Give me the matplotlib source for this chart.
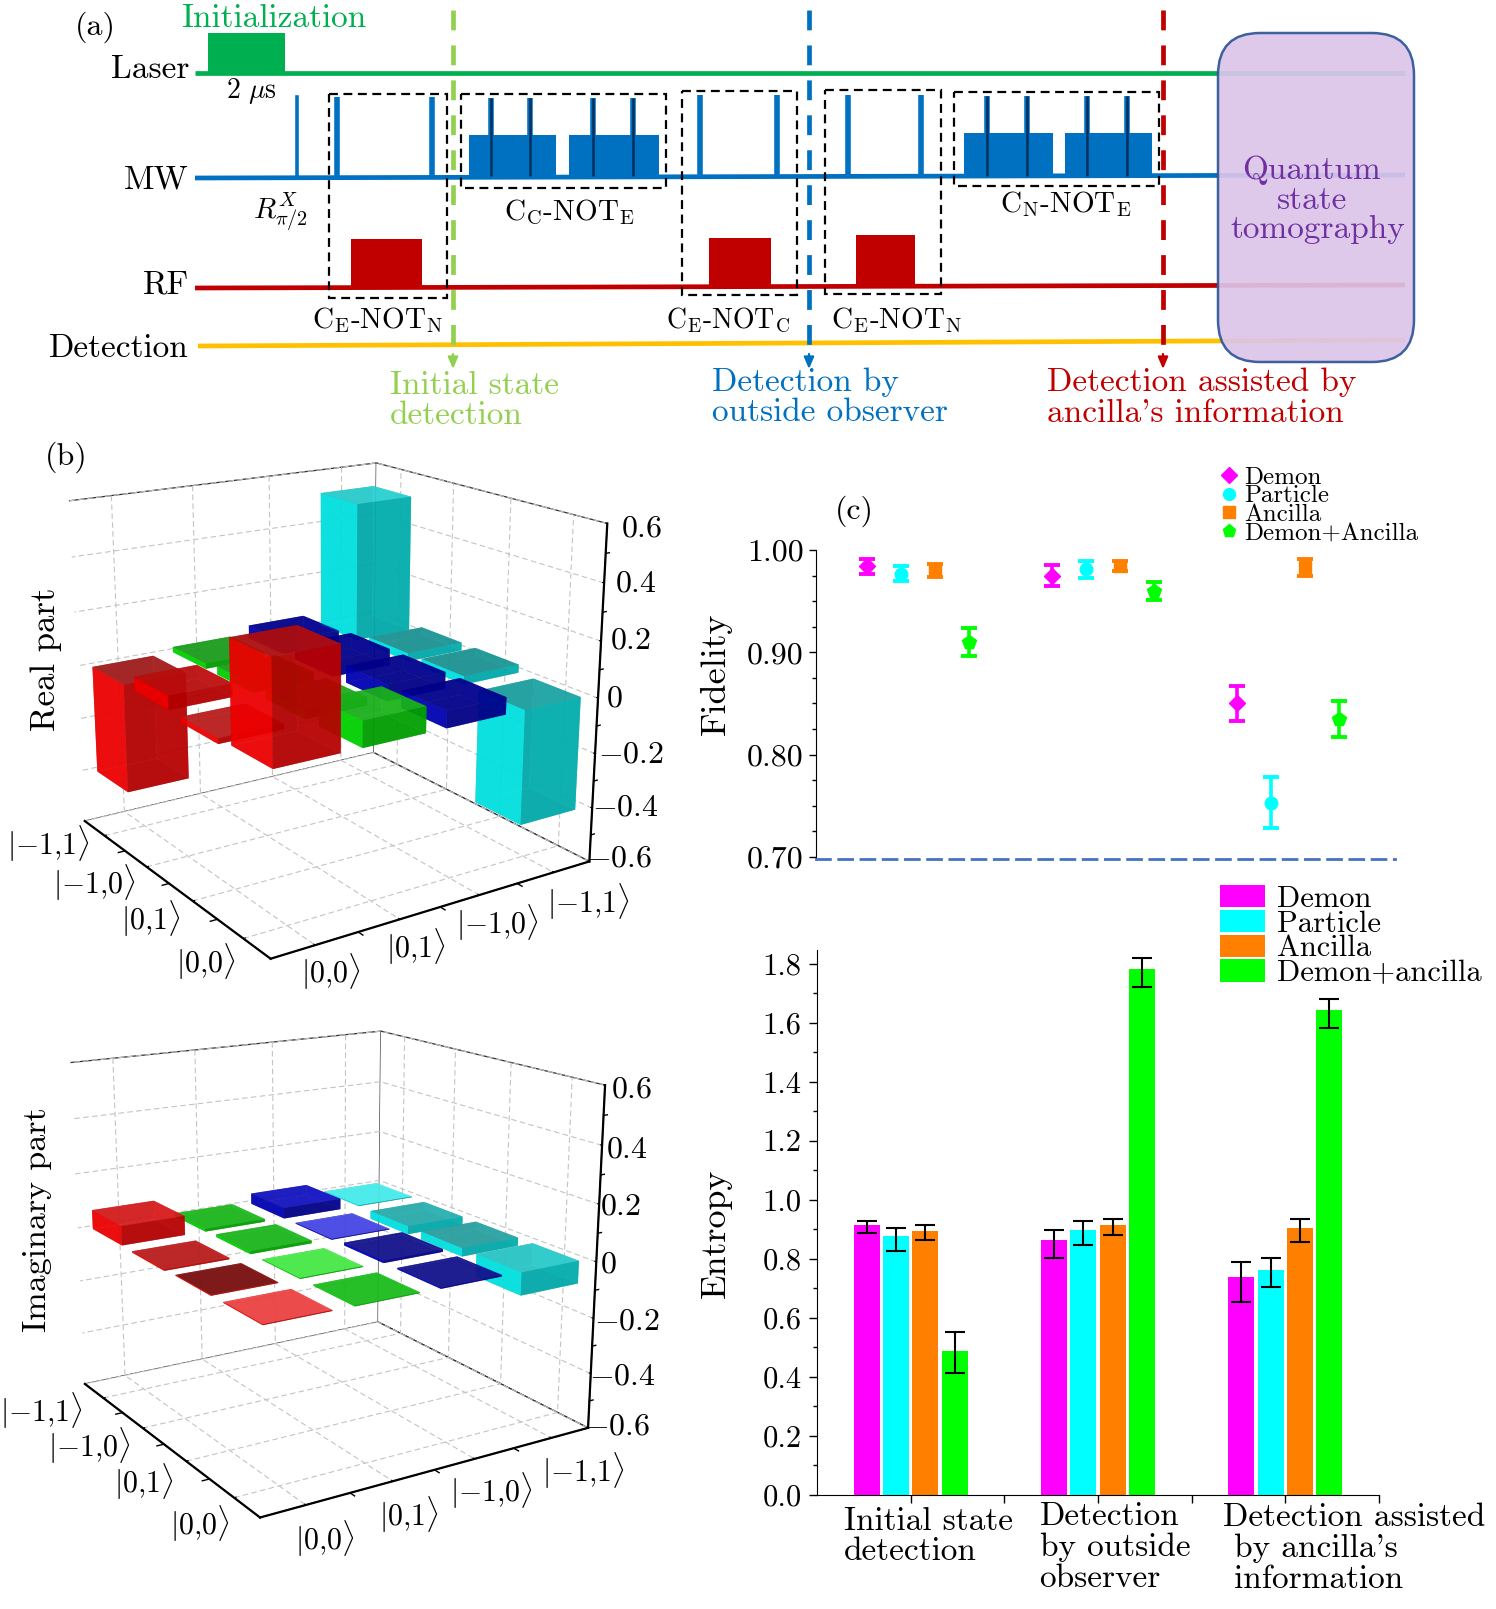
import numpy as np
import matplotlib
matplotlib.use('Agg')
import matplotlib.pyplot as plt
from matplotlib.patches import Rectangle, FancyBboxPatch
from matplotlib.lines import Line2D
from matplotlib.colors import to_rgb
from matplotlib.ticker import FixedLocator, MultipleLocator, NullFormatter
from matplotlib.transforms import ScaledTranslation
from mpl_toolkits.mplot3d import proj3d

plt.rcParams['font.family'] = ['cmr10', 'DejaVu Serif']
plt.rcParams['mathtext.fontset'] = 'cm'
plt.rcParams['axes.unicode_minus'] = False
plt.rcParams['grid.color'] = '#c4c4c4'
plt.rcParams['grid.linestyle'] = (0, (5, 3))
plt.rcParams['grid.linewidth'] = 0.8

W, H = 1496, 1609
DPI = 100

# ---- panel (a): pulse sequence, in picture pixels
seq_lines = {'Laser': (73, 73, '#00b050'), 'MW': (178, 175, '#0070c0'),
             'RF': (288, 285, '#c00000'), 'Detection': (346, 340, '#ffc000')}
laser_pulse = (208, 285, 33)
mw_wide_spikes = [337, 431.8, 700, 777, 848, 921.4]
mw_spike_tops = [97, 97, 95, 95, 95, 95]
mw_thin_spike = (297.5, 97)
mw_blocks = [(469, 556, 135), (569, 659, 135), (964, 1053, 133), (1065, 1152, 133)]
mw_dark_spikes = [491.5, 530.3, 593, 632.8, 987, 1027, 1087.5, 1127.3]
mw_dark_tops = [98, 98, 98, 98, 96, 96, 96, 96]
rf_pulses = [(351, 422, 239), (709.4, 771, 238), (855.7, 915.4, 235)]
gate_boxes = [(329, 447, 94, 298), (461, 666, 94, 188), (682, 797, 91, 295),
              (825, 941, 90, 294), (954, 1159, 92, 186)]
stage_x = [453, 809, 1163]
stage_colors = ['#92d050', '#0070c0', '#c00000']

# ---- panel (b): density-matrix elements, row = colour (4 rows, 4 bars each)
basis_x = [r'$|{-}1{,}1\rangle$', r'$|{-}1{,}0\rangle$', r'$|0{,}1\rangle$', r'$|0{,}0\rangle$']
basis_y = [r'$|0{,}0\rangle$', r'$|0{,}1\rangle$', r'$|{-}1{,}0\rangle$', r'$|{-}1{,}1\rangle$']
z_ticks = [-0.6, -0.4, -0.2, 0, 0.2, 0.4, 0.6]
z_labels = [r'$-0.6$', r'$-0.4$', r'$-0.2$', r'$0$', r'$0.2$', r'$0.4$', r'$0.6$']
row_colors = ['#ff0000', '#00e000', '#0000c0', '#00f0f0']
real_red = [-0.40, 0.05, -0.02, 0.35]
real_green = [0.02, 0.03, 0.03, 0.09]
real_blue = [0.05, 0.06, 0.06, 0.06]
real_cyan = [0.52, 0.03, 0.03, -0.41]
imag_red = [0.07, -0.005, 0.003, 0.003]
imag_green = [0.01, 0.01, 0.003, 0.003]
imag_blue = [0.04, 0.003, 0.01, 0.005]
imag_cyan = [0.003, -0.03, -0.03, -0.08]
real_top_colors = [['#a02020', '#c01010', '#c02020', '#b01010'],
                   ['#20a020', '#20a020', '#20b020', '#20b820'],
                   ['#000090', '#000090', '#000090', '#000090'],
                   ['#30d8d8', '#209090', '#209090', '#20a0a0']]
imag_top_colors = [['#e02020', '#c02020', '#701010', '#ff5050'],
                   ['#20c020', '#20c020', '#55ff55', '#20c820'],
                   ['#1515d0', '#5555ff', '#151590', '#151590'],
                   ['#55ffff', '#30b0b0', '#30a0a0', '#30d0d0']]

# ---- panel (c)
fid_demon = [0.984, 0.975, 0.850]
fid_particle = [0.977, 0.981, 0.753]
fid_ancilla = [0.980, 0.984, 0.983]
fid_both = [0.910, 0.960, 0.835]
fid_demon_err = [0.007, 0.010, 0.0175]
fid_particle_err = [0.007, 0.008, 0.025]
fid_ancilla_err = [0.006, 0.005, 0.008]
fid_both_err = [0.014, 0.009, 0.0175]
ent_categories = ['Initial state\ndetection', 'Detection\nby outside\nobserver',
                  "Detection assisted\n by ancilla's\n information"]
ent_demon = [0.913, 0.863, 0.739]
ent_particle = [0.876, 0.897, 0.763]
ent_ancilla = [0.895, 0.914, 0.905]
ent_both = [0.486, 1.781, 1.643]
ent_demon_lo = [0.886, 0.801, 0.654]
ent_demon_hi = [0.929, 0.897, 0.788]
ent_particle_lo = [0.826, 0.847, 0.705]
ent_particle_hi = [0.903, 0.927, 0.801]
ent_ancilla_lo = [0.863, 0.879, 0.855]
ent_ancilla_hi = [0.916, 0.935, 0.934]
ent_both_lo = [0.414, 1.720, 1.581]
ent_both_hi = [0.553, 1.819, 1.680]
series_colors = ['#ff00ff', '#00ffff', '#ff8000', '#00ff00']

fig = plt.figure(figsize=(W / DPI, H / DPI), dpi=DPI)


def rect(l, t, r, b):
    return [l / W, 1 - b / H, (r - l) / W, (b - t) / H]


ov = fig.add_axes([0, 0, 1, 1], zorder=5)
ov.set_xlim(0, W)
ov.set_ylim(H, 0)
ov.axis('off')
ov.patch.set_alpha(0)

FS = 24
LINE_END = 1405
label_y = {'Laser': 69, 'MW': 180, 'RF': 285, 'Detection': 348}
for name, (y0, y1, col) in seq_lines.items():
    x0 = 198 if name == 'Detection' else 195
    ov.plot([x0, LINE_END], [y0, y1], color=col, lw=3.4, solid_capstyle='butt', zorder=2)
    ov.text(189, label_y[name], name, ha='right', va='center', fontsize=FS, color='black')
ov.add_patch(Rectangle((laser_pulse[0], laser_pulse[2]), laser_pulse[1] - laser_pulse[0],
                       73 - laser_pulse[2], fc='#00b050', ec='none', zorder=2))
ov.plot([mw_thin_spike[0]] * 2, [178, mw_thin_spike[1]], color='#0070c0', lw=2.6, zorder=2)
for x, top in zip(mw_wide_spikes, mw_spike_tops):
    ov.plot([x, x], [177, top], color='#0070c0', lw=4, solid_capstyle='butt', zorder=2)
for x0, x1, top in mw_blocks:
    ov.add_patch(Rectangle((x0, top), x1 - x0, 176 - top, fc='#0070c0', ec='none', zorder=2))
for x, top in zip(mw_dark_spikes, mw_dark_tops):
    ov.plot([x, x], [176, top], color='#0070c0', lw=4, solid_capstyle='butt', zorder=2.5)
    ov.plot([x, x], [176, top], color='#07305f', lw=1.8, solid_capstyle='butt', zorder=3)
for x0, x1, top in rf_pulses:
    ov.add_patch(Rectangle((x0, top), x1 - x0, 287 - top, fc='#c00000', ec='none', zorder=2))
for x0, x1, y0, y1 in gate_boxes:
    ov.add_patch(Rectangle((x0, y0), x1 - x0, y1 - y0, fill=False, ec='black', lw=1.6,
                           ls=(0, (4, 2.5)), zorder=4))
for x, col in zip(stage_x, stage_colors):
    ov.plot([x, x], [10, 356], color=col, lw=3.4, ls=(0, (4.2, 3.2)), zorder=3)
    ov.annotate('', xy=(x, 369), xytext=(x, 354),
                arrowprops=dict(arrowstyle='-|>,head_width=0.3,head_length=0.7', color=col,
                                lw=1.6, shrinkA=0, shrinkB=0))
ov.add_patch(FancyBboxPatch((1218 + 42, 33 + 42), 196 - 84, 329 - 84,
                            boxstyle='round,pad=42,rounding_size=42', fc='#dcc5ea', ec='#2f5597',
                            lw=1.8, alpha=0.92, zorder=5))
for txt, x, y in [('Quantum', 1312, 170), ('state', 1312, 200), ('tomography', 1318, 229)]:
    ov.text(x, y, txt, ha='center', va='center', fontsize=FS, color='#7030a0', zorder=6)

for txt, x, y, col, ha, fs in [
    ('Initialization', 181, 18, '#00b050', 'left', 24),
    ('Initial state', 390, 385, '#92d050', 'left', 24), ('detection', 390, 415, '#92d050', 'left', 24),
    ('Detection by', 712, 382, '#0070c0', 'left', 24), ('outside observer', 712, 412, '#0070c0', 'left', 24),
    ('Detection assisted by', 1047, 382, '#c00000', 'left', 24),
    ("ancilla's information", 1047, 413, '#c00000', 'left', 24),
    (r'$2\ \mu\mathrm{s}$', 226, 91, 'black', 'left', 20),
    (r'$R_{\pi/2}^{X}$', 281, 212, 'black', 'center', 21),
    (r'$\mathrm{C}_{\mathrm{C}}\text{-}\mathrm{NOT}_{\mathrm{E}}$', 569, 212, 'black', 'center', 21),
    (r'$\mathrm{C}_{\mathrm{N}}\text{-}\mathrm{NOT}_{\mathrm{E}}$', 1066, 204, 'black', 'center', 21),
    (r'$\mathrm{C}_{\mathrm{E}}\text{-}\mathrm{NOT}_{\mathrm{N}}$', 378, 320, 'black', 'center', 21),
    (r'$\mathrm{C}_{\mathrm{E}}\text{-}\mathrm{NOT}_{\mathrm{C}}$', 728, 320, 'black', 'center', 20),
    (r'$\mathrm{C}_{\mathrm{E}}\text{-}\mathrm{NOT}_{\mathrm{N}}$', 897, 320, 'black', 'center', 21),
    ('(a)', 95, 27, 'black', 'center', 23), ('(b)', 66, 457, 'black', 'center', 23),
    ('(c)', 854, 511, 'black', 'center', 23),
]:
    ov.text(x, y, txt, ha=ha, va='center', fontsize=fs, color=col, zorder=6)
ov.text(46, 659, 'Real part', rotation=90, ha='center', va='center', fontsize=25)
ov.text(37, 1220, 'Imaginary part', rotation=90, ha='center', va='center', fontsize=24.5)

# ---- 3D panels
CORN = np.array([[.5, .5, -.6], [.5, 4.5, -.6], [4.5, 4.5, -.6], [4.5, .5, -.6],
                 [.5, .5, .6], [.5, 4.5, .6], [4.5, 4.5, .6]])
target_real = np.array([[83, 819], [371, 754], [586, 863], [271, 957], [71, 498], [376, 463], [613, 527]], float)
target_imag = np.array([[86, 1384], [378, 1322], [586, 1428], [260, 1516], [68, 1063], [381, 1031], [608, 1086]], float)
view_real = (17.95, -33.68, 2.02, 0.92)
view_imag = (16.56, -32.07, 2.06, 0.92)
SC = 1496 / 1455
real_xlabel_pos = [(47, 820), (92, 858), (147, 893), (200, 935)]
real_ylabel_pos = [(322, 945), (404, 921), (484, 897), (572, 877)]
real_zlabel_pos = [(570, 835), (576, 786), (582, 734), (589, 680), (593, 623), (598, 568), (604, 514)]
imag_xlabel_pos = [(40, 1372), (87, 1406), (140, 1441), (194, 1482)]
imag_ylabel_pos = [(316, 1496), (398, 1473), (478, 1450), (567, 1430)]
imag_zlabel_pos = [(568, 1388), (573, 1339), (578, 1286), (584, 1230), (584, 1174), (589, 1118), (594, 1060)]


def placement(ax, p, target):
    elev, azim, zoom, cr = p
    ax.view_init(elev, azim)
    ax.set_box_aspect((1, 1, cr), zoom=zoom)
    M = ax.get_proj()
    X, Y, _ = proj3d.proj_transform(CORN[:, 0], CORN[:, 1], CORN[:, 2], M)
    X, Y = np.asarray(X), np.asarray(Y)
    n = len(X)
    A = np.zeros((2 * n, 3))
    A[:n, 0] = X; A[:n, 1] = 1
    A[n:, 0] = Y; A[n:, 2] = 1
    b = np.r_[target[:, 0], H - target[:, 1]]
    sol, *_ = np.linalg.lstsq(A, b, rcond=None)
    return sol


def bars3d(ax, rows, top_colors):
    xs, ys, z0, dz, cols = [], [], [], [], []
    w = 0.75
    for j, row in enumerate(rows):
        for i, v in enumerate(row):
            xs.append(i + 1 - w / 2); ys.append(j + 1 - w / 2)
            z0.append(min(0, v)); dz.append(abs(v))
            base = np.array(to_rgb(row_colors[j]))
            top = np.array(to_rgb(top_colors[j][i]))
            # faces: -z, +z, -y, +y, -x, +x
            for f in (base * 0.6, top, base, base * 0.7, base * 0.6, base * 0.72):
                cols.append((*f, 0.76))
    poly = ax.bar3d(xs, ys, z0, w, w, dz, color=cols, shade=False, edgecolor='none')
    poly.set_clip_on(False)


def setup3d(ax, p, target, xpos, ypos, zpos):
    ax.set_facecolor('none')
    for axis in (ax.xaxis, ax.yaxis, ax.zaxis):
        axis.set_pane_color((1, 1, 1, 1))
        axis.pane.set_edgecolor('#303030')
        axis.pane.set_linewidth(0.9)
        axis.line.set_color('black')
        axis.line.set_linewidth(1.6)
        axis._axinfo['tick']['inward_factor'] = 0.0
        axis._axinfo['tick']['outward_factor'] = 0.07
    ax.set_xlim(.5, 4.5); ax.set_ylim(.5, 4.5); ax.set_zlim(-.6, .6)
    ax.set_xticks([1, 2, 3, 4]); ax.set_xticklabels([])
    ax.set_yticks([1, 2, 3, 4]); ax.set_yticklabels([])
    ax.set_zticks(z_ticks); ax.set_zticklabels([])
    s, tx, ty = placement(ax, p, target)
    vl = ax.viewLim
    ax.set_position([(tx + s * vl.x0) / W, (ty + s * vl.y0) / H, s * vl.width / W, s * vl.height / H])
    for (x, y), lab in zip(xpos, basis_x):
        ov.text(x * SC, y * SC, lab, ha='center', va='center', fontsize=21.5)
    for (x, y), lab in zip(ypos, basis_y):
        ov.text(x * SC, y * SC, lab, ha='center', va='center', fontsize=21.5)
    for (x, y), lab in zip(zpos, z_labels):
        ov.text(x * SC, y * SC, lab, ha='left', va='center', fontsize=23)
    # minor tick marks
    for v in (1.5, 2.5, 3.5):
        ax.plot([v, v], [.5, .42], [-.6, -.6], color='k', lw=1, clip_on=False)
        ax.plot([4.5, 4.58], [v, v], [-.6, -.6], color='k', lw=1, clip_on=False)
    for v in (-.5, -.3, -.1, .1, .3, .5):
        ax.plot([4.5, 4.5], [4.5, 4.55], [v, v], color='k', lw=1, clip_on=False)


ax_re = fig.add_axes([0.02, 0.4, 0.4, 0.35], projection='3d')
ax_im = fig.add_axes([0.02, 0.02, 0.4, 0.35], projection='3d')
setup3d(ax_re, view_real, target_real, real_xlabel_pos, real_ylabel_pos, real_zlabel_pos)
setup3d(ax_im, view_imag, target_imag, imag_xlabel_pos, imag_ylabel_pos, imag_zlabel_pos)
bars3d(ax_re, [real_red, real_green, real_blue, real_cyan], real_top_colors)
bars3d(ax_im, [imag_red, imag_green, imag_blue, imag_cyan], imag_top_colors)

# ---- panel (c), fidelity
ax_f = fig.add_axes(rect(816, 550, 1395, 859))
group = np.arange(3)
fid_series = [('Demon', fid_demon, fid_demon_err, 'D', -0.274, 8.5),
              ('Particle', fid_particle, fid_particle_err, 'o', -0.0914, 9),
              ('Ancilla', fid_ancilla, fid_ancilla_err, 's', 0.0914, 8.5),
              ('Demon+Ancilla', fid_both, fid_both_err, 'p', 0.274, 10)]
for (label, vals, err, mk, off, ms), col in zip(fid_series, series_colors):
    ax_f.errorbar(group + off, vals, yerr=err, fmt=mk, color=col, ms=ms, elinewidth=2.6,
                  capsize=5.5, capthick=2.8, label=label, mec=col)
ax_f.set_xlim(-0.551, 2.578)
ax_f.set_ylim(0.698, 1.0)
ax_f.set_xticks([])
ax_f.set_yticks([0.7, 0.8, 0.9, 1.0])
ax_f.set_yticklabels(['0.70', '0.80', '0.90', '1.00'])
ax_f.yaxis.set_minor_locator(MultipleLocator(0.025))
ax_f.tick_params(axis='y', which='major', length=5, width=1, labelsize=23, pad=4)
ax_f.tick_params(axis='y', which='minor', length=3, width=1)
for s in ('top', 'right'):
    ax_f.spines[s].set_visible(False)
ax_f.spines['bottom'].set_color('#4472c4')
ax_f.spines['bottom'].set_linewidth(2)
ax_f.spines['bottom'].set_linestyle((0, (5, 3)))
ax_f.set_ylabel('Fidelity', fontsize=26)
ax_f.yaxis.set_label_coords((732 - 816) / 579, 0.60)
hs = [Line2D([], [], marker=m[3], color=c, ls='none', ms=m[5] * 0.95) for m, c in zip(fid_series, series_colors)]
fig.legend(hs, [m[0] for m in fid_series], loc='upper left', bbox_to_anchor=(1221.5 / W, 1 - 466 / H),
           frameon=False, fontsize=18, labelspacing=-0.15, handlelength=0.6, handletextpad=0.32,
           borderpad=0, borderaxespad=0)

# ---- panel (c), entropy
ax_e = fig.add_axes(rect(817, 950, 1379, 1494.6))
ent_series = [('Demon', ent_demon, ent_demon_lo, ent_demon_hi, -0.235),
              ('Particle', ent_particle, ent_particle_lo, ent_particle_hi, -0.0785),
              ('Ancilla', ent_ancilla, ent_ancilla_lo, ent_ancilla_hi, 0.0785),
              ('Demon+ancilla', ent_both, ent_both_lo, ent_both_hi, 0.235)]
for (label, vals, lo, hi, off), col in zip(ent_series, series_colors):
    yerr = [np.array(vals) - np.array(lo), np.array(hi) - np.array(vals)]
    ax_e.bar(group + off, vals, width=0.138, color=col, label=label, yerr=yerr,
             error_kw=dict(ecolor='black', elinewidth=1.5, capsize=7.5, capthick=1.5))
ax_e.set_xlim(-0.5, 2.5)
ax_e.set_ylim(0, 1.847)
ax_e.set_xticks(group)
ax_e.xaxis.set_minor_locator(FixedLocator([0.5, 1.5, 2.5]))
ax_e.xaxis.set_minor_formatter(NullFormatter())
ax_e.set_yticks(np.arange(0, 1.81, 0.2))
ax_e.set_yticklabels(['0.0', '0.2', '0.4', '0.6', '0.8', '1.0', '1.2', '1.4', '1.6', '1.8'])
ax_e.yaxis.set_minor_locator(MultipleLocator(0.1))
ax_e.tick_params(axis='y', which='major', length=6, width=1, labelsize=22, pad=5)
ax_e.tick_params(axis='y', which='minor', length=3, width=1)
ax_e.tick_params(axis='x', which='both', length=6, width=1, pad=-1)
ax_e.set_xticklabels(ent_categories, fontsize=24, ha='left', linespacing=1.08)
for lab, dx, dy in zip(ax_e.get_xticklabels(), (-66.7, -58.5, -62), (-5, 0, -1)):
    lab.set_transform(lab.get_transform() + ScaledTranslation(dx / DPI, dy / DPI, fig.dpi_scale_trans))
for s in ('top', 'right'):
    ax_e.spines[s].set_visible(False)
ax_e.set_ylabel('Entropy', fontsize=26)
ax_e.yaxis.set_label_coords((732 - 817) / 562, 0.48)
fig.legend(*ax_e.get_legend_handles_labels(), loc='upper left', bbox_to_anchor=(1220 / W, 1 - 885 / H),
           frameon=False, fontsize=22, labelspacing=-0.10, handlelength=1.47, handleheight=0.75,
           handletextpad=0.4, borderpad=0, borderaxespad=0)

fig.savefig('out.png', dpi=DPI)
